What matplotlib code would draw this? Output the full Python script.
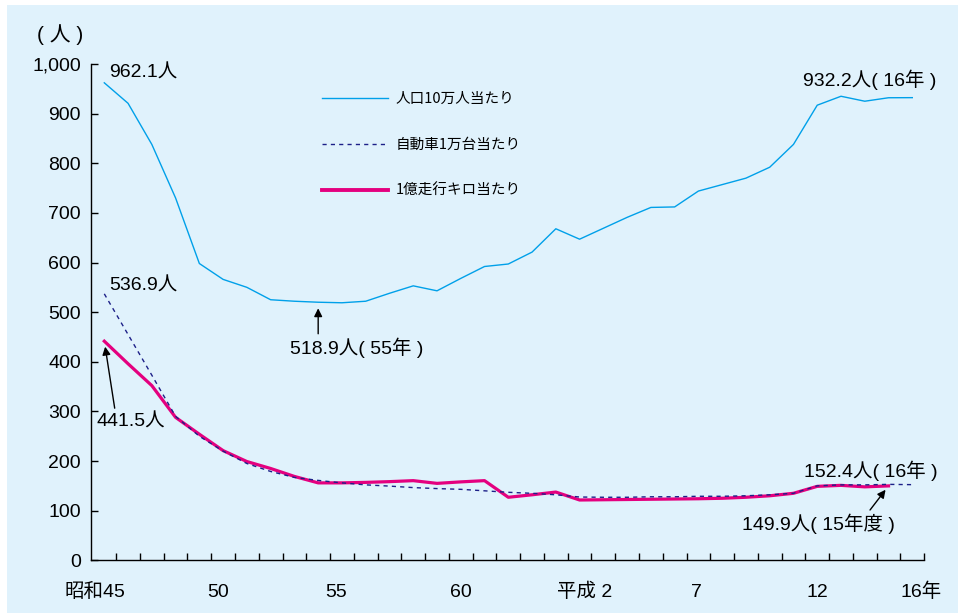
import matplotlib
matplotlib.use("Agg")
import matplotlib.pyplot as plt
import numpy as np
from matplotlib.patches import Rectangle
from matplotlib.transforms import blended_transform_factory, offset_copy
from matplotlib.ticker import FuncFormatter, MultipleLocator, FixedLocator
from matplotlib.font_manager import FontProperties

# 交通事故死傷者数（昭和45年〜平成16年）
years = list(range(1970, 2005))
per_population = [962.1, 920.8, 838, 730, 598, 566, 550, 525, 522, 520,
                  518.9, 522, 538, 553, 543, 568, 592, 597, 621, 668,
                  647, 669, 691, 711, 712, 744, 757, 770, 792, 838,
                  917, 935, 925, 932, 932.2]
per_vehicles = [536.9, 455, 373, 290, 250, 220, 195, 179, 167, 161,
                156, 152, 149.5, 146.5, 144.5, 143, 140, 137, 135, 132,
                127.5, 127, 127, 128, 128, 129, 129, 130, 132, 135,
                150, 152, 152, 153, 152.4]
per_100m_km = [441.5, 396, 352, 288, 254, 221, 199, 185, 169, 156,
               156, 157, 158.5, 160.5, 155, 158, 160.5, 127, 132, 137.5,
               121.5, 122, 122.5, 123, 123.5, 124, 125, 127, 130, 135,
               149, 151, 148, 149.9]

series_names = ["人口10万人当たり", "自動車1万台当たり", "1億走行キロ当たり"]
tick_years = [1970, 1975, 1980, 1985, 1990, 1995, 2000, 2004]
tick_labels = ["昭和45", "50", "55", "60", "平成 2", "7", "12", "16年"]
tick_shift_px = [-9, -5, -6, 0, 5, -2, 0, 9]

C_POP = "#00a0e9"
C_VEH = "#1d2088"
C_KM = "#e4007f"
BG = "#e0f2fc"

plt.rcParams["font.family"] = ["Liberation Sans", "Noto Sans CJK JP"]

W, H = 958, 613
fig = plt.figure(figsize=(W / 100, H / 100), dpi=100)
fig.patch.set_facecolor("white")
fig.patches.append(Rectangle((7 / W, 0), 1, (H - 5) / H, transform=fig.transFigure,
                             facecolor=BG, edgecolor="none", zorder=-10))

ax = fig.add_axes([90.7 / W, (H - 560.3) / H, (924.3 - 90.7) / W, (560.3 - 64) / H])
ax.set_facecolor("none")

x_all = np.arange(len(years))
x_km = np.arange(len(per_100m_km))

ax.plot(x_all, per_population, color=C_POP, lw=1.0, solid_joinstyle="round",
        label=series_names[0], zorder=3)
ax.plot(x_all, per_vehicles, color=C_VEH, lw=1.0, linestyle=(0, (3, 3)),
        label=series_names[1], zorder=4)
ax.plot(x_km, per_100m_km, color=C_KM, lw=2.3, solid_joinstyle="round",
        label=series_names[2], zorder=3)

ax.set_xlim(-0.572, 34.505)
ax.set_ylim(0, 1000)

for side in ("top", "right"):
    ax.spines[side].set_visible(False)
for side in ("left", "bottom"):
    ax.spines[side].set_linewidth(1.0)
    ax.spines[side].set_color("black")

ax.yaxis.set_major_locator(MultipleLocator(100))
ax.yaxis.set_major_formatter(FuncFormatter(lambda v, p: f"{int(v):,}"))
ax.tick_params(axis="y", direction="in", length=5, width=1.0, pad=7,
               labelsize=14, colors="black")

ax.xaxis.set_major_locator(FixedLocator(np.arange(0.5, len(years), 1)))
ax.xaxis.set_major_formatter(FuncFormatter(lambda v, p: ""))
ax.tick_params(axis="x", direction="in", length=5, width=1.0)

xt = blended_transform_factory(ax.transData, ax.transAxes)
for yr, lab, dx in zip(tick_years, tick_labels, tick_shift_px):
    tr = offset_copy(xt, fig=fig, x=dx, y=-36.7, units="dots")
    ax.text(years.index(yr), 0, lab, transform=tr, ha="center", va="baseline",
            fontsize=14, clip_on=False)

fig.text(60 / W, 1 - 35 / H, "( 人 )", ha="center", va="center", fontsize=15)

leg = ax.legend(prop=FontProperties(family=["Noto Sans CJK JP"], size=10.5),
                frameon=False, loc="upper left",
                bbox_to_anchor=(322.3 / W, 1 - 92 / H), bbox_transform=fig.transFigure,
                handlelength=4.5, handletextpad=0.55, labelspacing=2.2,
                borderpad=0, borderaxespad=0)
leg.get_lines()[2].set_linewidth(2.8)

arrow = dict(arrowstyle="-|>", color="black", lw=1.0, mutation_scale=12,
             shrinkA=0, shrinkB=4)
i_end = len(years) - 1
i_km_end = len(per_100m_km) - 1
i_min = int(np.argmin(per_population))

ax.annotate(f"{per_population[0]}人", xy=(0, per_population[0]),
            xytext=(4.7, 10), textcoords="offset pixels",
            ha="left", va="center", fontsize=14)
ax.annotate(f"{per_vehicles[0]}人", xy=(0, per_vehicles[0]),
            xytext=(4.7, 7.8), textcoords="offset pixels",
            ha="left", va="center", fontsize=14)

# 最少年の矢印と注記
ax.annotate("", xy=(i_min - 1, per_population[i_min]), xytext=(0, -31),
            textcoords="offset pixels", arrowprops=arrow)
ax.annotate(f"{per_population[i_min]}人( 55年 )", xy=(i_min - 1, per_population[i_min]),
            xytext=(-28, -45), textcoords="offset pixels",
            ha="left", va="center", fontsize=14)

ax.annotate("", xy=(0, per_100m_km[0]), xytext=(10.4, -67),
            textcoords="offset pixels", arrowprops=arrow)
ax.annotate(f"{per_100m_km[0]}人", xy=(0, per_100m_km[0]),
            xytext=(-7.3, -80.5), textcoords="offset pixels",
            ha="left", va="center", fontsize=14)

ax.annotate(f"{per_population[i_end]}人( 16年 )", xy=(i_end, per_population[i_end]),
            xytext=(-109, 17.6), textcoords="offset pixels",
            ha="left", va="center", fontsize=14)
ax.annotate(f"{per_vehicles[i_end]}人( 16年 )", xy=(i_end, per_vehicles[i_end]),
            xytext=(-108.3, 14), textcoords="offset pixels",
            ha="left", va="center", fontsize=14)

ax.annotate("", xy=(i_km_end, per_100m_km[i_km_end]), xytext=(-18.5, -24.1),
            textcoords="offset pixels", arrowprops=dict(arrow, shrinkB=3.5))
ax.annotate(f"{per_100m_km[i_km_end]}人( 15年度 )", xy=(i_km_end, per_100m_km[i_km_end]),
            xytext=(-146.8, -37.4), textcoords="offset pixels",
            ha="left", va="center", fontsize=14)

fig.savefig("out.png", dpi=100, facecolor=fig.get_facecolor())
